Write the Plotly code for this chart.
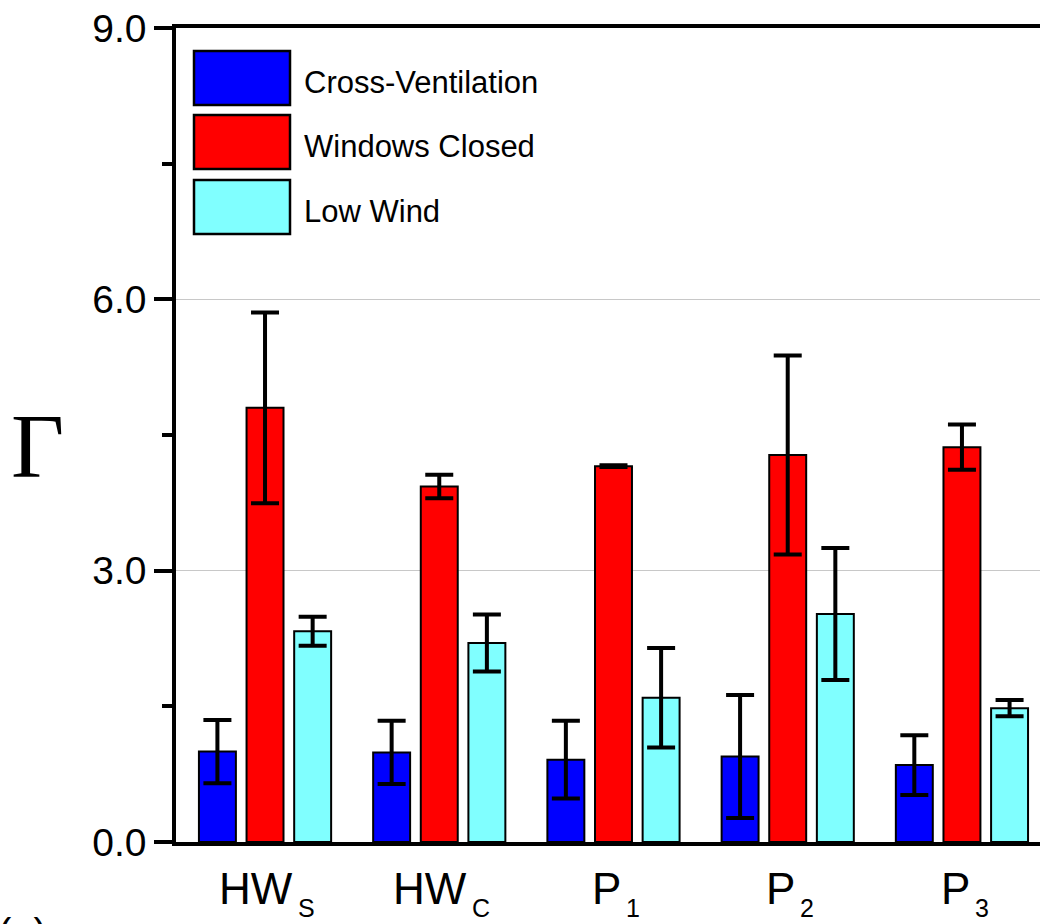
import plotly.graph_objects as go

# ---- data -------------------------------------------------------------
categories = ["HW_S", "HW_C", "P_1", "P_2", "P_3"]
label_main = ["HW", "HW", "P", "P", "P"]
label_sub = ["S", "C", "1", "2", "3"]

series_names = ["Cross-Ventilation", "Windows Closed", "Low Wind"]
cross_vent = [1.00, 0.99, 0.91, 0.945, 0.85]
cross_vent_err = [0.35, 0.35, 0.43, 0.68, 0.33]
windows_closed = [4.80, 3.93, 4.155, 4.28, 4.365]
windows_closed_err = [1.055, 0.13, 0.01, 1.10, 0.25]
low_wind = [2.33, 2.20, 1.595, 2.52, 1.48]
low_wind_err = [0.16, 0.315, 0.55, 0.73, 0.09]

y_ticks = [0, 3, 6, 9]
y_tick_text = ["0.0", "3.0", "6.0", "9.0"]

# ---- styling ----------------------------------------------------------
colors = ["#0000FF", "#FF0000", "#80FFFF"]
W, H = 1040, 924
L, R, T, B = 176, 0, 28, 82
PW, PH = W - L - R, H - T - B
SANS = "Liberation Sans, Arial, sans-serif"


def px_x(px):
    return (px - L) / PW


def px_y(py):
    return (H - B - py) / PH


fig = go.Figure()
for name, vals, errs, col in zip(
    series_names,
    [cross_vent, windows_closed, low_wind],
    [cross_vent_err, windows_closed_err, low_wind_err],
    colors,
):
    fig.add_trace(
        go.Bar(
            x=categories,
            y=vals,
            name=name,
            marker=dict(color=col, line=dict(color="black", width=2)),
            error_y=dict(type="data", array=errs, visible=True,
                         color="black", thickness=4, width=14),
            showlegend=False,
        )
    )

# legend drawn as large swatches with labels
sw_left, sw_right = 194, 290
sw_tops = [51, 115, 180]
sw_h = 54
shapes = []
annotations = []
for name, col, top in zip(series_names, colors, sw_tops):
    shapes.append(dict(
        type="rect", xref="paper", yref="paper",
        x0=px_x(sw_left), x1=px_x(sw_right),
        y0=px_y(top + sw_h), y1=px_y(top),
        fillcolor=col, line=dict(color="black", width=2.5),
    ))
    annotations.append(dict(
        text=name, xref="paper", yref="paper",
        x=px_x(302), y=px_y(top + sw_h / 2 + 4),
        xanchor="left", yanchor="middle", showarrow=False,
        font=dict(family=SANS, size=31, color="black"),
    ))

# approximate advance widths (em) for the category label glyphs
GLYPH_EM = {"H": 0.722, "W": 0.944, "P": 0.667, "S": 0.667, "C": 0.722,
            "1": 0.556, "2": 0.556, "3": 0.556}
MAIN_SIZE, SUB_SIZE = 44, 25


def text_w(s, size):
    return sum(GLYPH_EM.get(c, 0.6) for c in s) * size


for i, (m, s) in enumerate(zip(label_main, label_sub)):
    shift = (text_w(m, MAIN_SIZE) - text_w(s, SUB_SIZE)) / 2 + 2
    annotations.append(dict(
        text=m, xref="x", yref="paper", x=i, y=px_y(888),
        xanchor="right", yanchor="middle", xshift=shift, showarrow=False,
        font=dict(family=SANS, size=MAIN_SIZE, color="black"),
    ))
    annotations.append(dict(
        text=s, xref="x", yref="paper", x=i, y=px_y(908),
        xanchor="left", yanchor="middle", xshift=shift + 1, showarrow=False,
        font=dict(family=SANS, size=SUB_SIZE, color="black"),
    ))

# y-axis symbol
annotations.append(dict(
    text="Γ", xref="paper", yref="paper", x=px_x(37), y=px_y(446),
    xanchor="center", yanchor="middle", showarrow=False,
    font=dict(family="Liberation Serif, Times New Roman, serif", size=92, color="black"),
))
# panel tag
annotations.append(dict(
    text="(a)", xref="paper", yref="paper", x=px_x(22), y=px_y(933),
    xanchor="center", yanchor="middle", showarrow=False,
    font=dict(family=SANS, size=40, color="black"),
))

fig.update_layout(
    width=W, height=H,
    margin=dict(l=L, r=R, t=T, b=B, pad=0),
    paper_bgcolor="white", plot_bgcolor="white",
    barmode="group", bargap=0.18, bargroupgap=0.224,
    shapes=shapes, annotations=annotations,
    showlegend=False,
)
fig.update_xaxes(
    type="category", range=[-0.511, 4.448],
    showticklabels=False, ticks="",
    showline=True, linecolor="black", linewidth=3.5, mirror=True,
    showgrid=False, zeroline=False,
)
fig.update_yaxes(
    range=[0, 9], tickvals=y_ticks, ticktext=y_tick_text,
    ticks="outside", ticklen=18, tickwidth=3.5, tickcolor="black",
    minor=dict(dtick=1.5, ticks="outside", ticklen=10, tickwidth=3.5,
               tickcolor="black", showgrid=False),
    tickfont=dict(family=SANS, size=39, color="black"),
    showline=True, linecolor="black", linewidth=3.5, mirror=False,
    showgrid=True, gridcolor="#c8c8c8", gridwidth=1, zeroline=False,
)

fig.write_html("out.html")
